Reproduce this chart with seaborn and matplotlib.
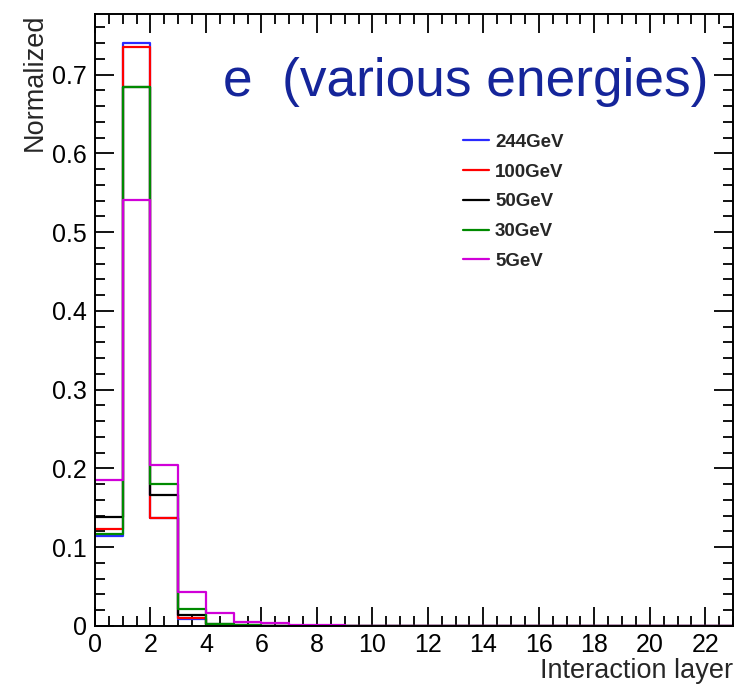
import numpy as np
import pandas as pd
import seaborn as sns
import matplotlib
matplotlib.use("Agg")
import matplotlib.pyplot as plt
from matplotlib.ticker import MultipleLocator, FuncFormatter
from matplotlib.lines import Line2D

# ---- data ----
bin_edges = list(range(0, 24))
layers = [i + 0.5 for i in range(23)]
labels = ["244GeV", "100GeV", "50GeV", "30GeV", "5GeV"]
colors = ["#2a2aff", "#ff0000", "#000000", "#008a00", "#d000d8"]
e244 = [0.114, 0.740, 0.137, 0.009, 0.0015, 0.0005, 0.0003, 0.0002, 0.0001, 0.0001, 0.0, 0.0,
        0.0, 0.0, 0.0, 0.0, 0.0, 0.0, 0.0, 0.0, 0.0, 0.0, 0.0]
e100 = [0.123, 0.735, 0.137, 0.0098, 0.0015, 0.0005, 0.0003, 0.0002, 0.0001, 0.0001, 0.0, 0.0,
        0.0, 0.0, 0.0, 0.0, 0.0, 0.0, 0.0, 0.0, 0.0, 0.0, 0.0]
e50 = [0.139, 0.684, 0.166, 0.014, 0.0025, 0.0008, 0.0004, 0.0002, 0.0001, 0.0001, 0.0, 0.0,
       0.0, 0.0, 0.0, 0.0, 0.0, 0.0, 0.0, 0.0, 0.0, 0.0, 0.0]
e30 = [0.117, 0.684, 0.180, 0.0216, 0.002, 0.0008, 0.0004, 0.0002, 0.0001, 0.0001, 0.0, 0.0,
       0.0, 0.0, 0.0, 0.0, 0.0, 0.0, 0.0, 0.0, 0.0, 0.0, 0.0]
e5 = [0.1855, 0.541, 0.205, 0.0436, 0.017, 0.0055, 0.004, 0.0015, 0.001, 0.0006, 0.0004, 0.0003,
      0.0002, 0.0002, 0.0001, 0.0001, 0.0001, 0.0, 0.0, 0.0, 0.0, 0.0, 0.0]
series = [e244, e100, e50, e30, e5]

sns.set_style("ticks")
plt.rcParams["font.family"] = ["Liberation Sans", "DejaVu Sans"]

fig = plt.figure(figsize=(7.37, 6.95), dpi=100)
ax = fig.add_axes([0.1289, 0.0993, 0.8657, 0.8806])

for vals, col, lab in zip(series, colors, labels):
    df = pd.DataFrame({"layer": layers, "w": vals})
    sns.histplot(data=df, x="layer", weights="w", bins=bin_edges, element="step",
                 fill=False, color=col, linewidth=1.6, ax=ax)

ax.set_xlim(0, 23)
ax.set_ylim(0, 0.777)
ax.xaxis.set_major_locator(MultipleLocator(2))
ax.xaxis.set_minor_locator(MultipleLocator(0.5))
ax.yaxis.set_major_locator(MultipleLocator(0.1))
ax.yaxis.set_minor_locator(MultipleLocator(0.02))
ax.yaxis.set_major_formatter(FuncFormatter(lambda v, p: "0" if abs(v) < 1e-9 else f"{v:.1f}"))
ax.tick_params(which="both", direction="in", top=True, right=True, width=1.3, colors="black",
               labelsize=18)
ax.tick_params(which="major", length=14)
ax.tick_params(which="minor", length=7)
ax.tick_params(axis="x", which="major", pad=5)
ax.tick_params(axis="y", which="major", pad=6)
for s in ax.spines.values():
    s.set_linewidth(1.4)
    s.set_color("black")

ax.set_xlabel("Interaction layer", fontsize=19.5, loc="right", labelpad=1)
ax.set_ylabel("Normalized", fontsize=19.5, loc="top", labelpad=3)

ax.text(0.2, 0.866, "e  (various energies)", transform=ax.transAxes,
        fontsize=38.3, color="#15259a", va="baseline", ha="left")

handles = [Line2D([0], [0], color=c, lw=1.6) for c in colors]
ax.legend(handles, labels, loc="upper left", bbox_to_anchor=(0.577, 0.804),
          frameon=False, prop={"weight": "bold", "size": 13.5}, handlelength=1.4,
          handletextpad=0.3, labelspacing=0.67, borderaxespad=0, borderpad=0)

fig.savefig("out.png", dpi=100)
